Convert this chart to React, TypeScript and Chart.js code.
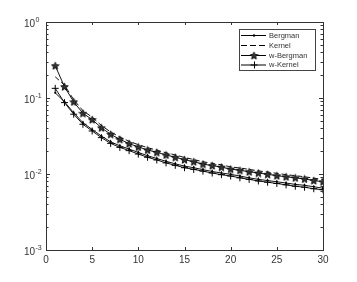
import React, { useEffect, useRef } from "react";
import { Chart, registerables } from "chart.js";

Chart.register(...registerables);

const xValues = [1,2,3,4,5,6,7,8,9,10,11,12,13,14,15,16,17,18,19,20,21,22,23,24,25,26,27,28,29,30];
const bergman = [0.117,0.089,0.064,0.0473,0.0385,0.0316,0.0265,0.0235,0.0213,0.0192,0.0174,0.016,0.0147,0.0136,0.0127,0.0121,0.0114,0.0108,0.0103,0.0099,0.0094,0.0089,0.0085,0.0082,0.0079,0.0076,0.0073,0.0071,0.0068,0.0065];
const kernel = [0.19,0.148,0.095,0.068,0.056,0.0435,0.0357,0.0306,0.0269,0.0243,0.0222,0.0206,0.019,0.0178,0.0165,0.0155,0.0145,0.0138,0.0132,0.0124,0.012,0.0115,0.011,0.0106,0.0102,0.0098,0.0095,0.0092,0.0088,0.0085];
const wBergman = [0.266,0.141,0.089,0.063,0.052,0.0406,0.0333,0.0286,0.0251,0.0227,0.0207,0.0193,0.0178,0.0166,0.0154,0.0145,0.0135,0.0129,0.0123,0.0116,0.0112,0.0107,0.0103,0.0099,0.0095,0.0092,0.0089,0.0086,0.0082,0.0079];
const wKernel = [0.134,0.087,0.0612,0.0451,0.0368,0.0301,0.0253,0.0224,0.0203,0.0183,0.0166,0.0153,0.014,0.013,0.0121,0.0115,0.0109,0.0103,0.0098,0.0094,0.0089,0.0085,0.0081,0.0078,0.0075,0.0072,0.0069,0.0067,0.0064,0.0062];
const seriesNames = ["Bergman", "Kernel", "w-Bergman", "w-Kernel"];
const xTicks = [0, 5, 10, 15, 20, 25, 30];
const yDecades = [-3, -2, -1, 0];

const FONT = "'Liberation Sans', Arial, sans-serif";

function makeStar(size: number): HTMLCanvasElement {
  const c = document.createElement("canvas");
  c.width = size;
  c.height = size;
  const g = c.getContext("2d")!;
  const cx = size / 2, cy = size / 2 + 0.4;
  const R = size / 2 - 0.5, r = R * 0.45;
  g.beginPath();
  for (let i = 0; i < 10; i++) {
    const a = -Math.PI / 2 + (i * Math.PI) / 5;
    const rr = i % 2 === 0 ? R : r;
    const px = cx + rr * Math.cos(a), py = cy + rr * Math.sin(a);
    if (i === 0) g.moveTo(px, py); else g.lineTo(px, py);
  }
  g.closePath();
  g.fillStyle = "#333";
  g.fill();
  g.strokeStyle = "#000";
  g.lineWidth = 0.8;
  g.stroke();
  return c;
}

export default function App() {
  const ref = useRef<HTMLCanvasElement | null>(null);
  useEffect(() => {
    document.body.style.margin = "0";
    const star = makeStar(9);
    const framePlugin = {
      id: "frame",
      afterDraw(chart: any) {
        const { ctx, chartArea } = chart;
        const { left, right, top, bottom } = chartArea;
        const xs = chart.scales.x, ys = chart.scales.y;
        ctx.save();
        ctx.strokeStyle = "#333";
        ctx.lineWidth = 1;
        ctx.strokeRect(Math.round(left) + 0.5, Math.round(top) + 0.5, Math.round(right - left), Math.round(bottom - top));
        ctx.beginPath();
        for (const t of xTicks) {
          const px = Math.round(xs.getPixelForValue(t)) + 0.5;
          ctx.moveTo(px, bottom); ctx.lineTo(px, bottom - 3);
          ctx.moveTo(px, top); ctx.lineTo(px, top + 3);
        }
        for (const d of yDecades) {
          for (let m = 1; m <= 9; m++) {
            if (d === 0 && m > 1) break;
            const v = m * Math.pow(10, d);
            const py = Math.round(ys.getPixelForValue(v)) + 0.5;
            const len = m === 1 ? 4 : 2.5;
            ctx.moveTo(left, py); ctx.lineTo(left + len, py);
            ctx.moveTo(right, py); ctx.lineTo(right - len, py);
          }
        }
        ctx.stroke();
        // y labels
        ctx.fillStyle = "#333";
        for (const d of yDecades) {
          const py = ys.getPixelForValue(Math.pow(10, d));
          ctx.font = "10px " + FONT;
          ctx.textAlign = "right";
          ctx.textBaseline = "middle";
          ctx.fillText("10", 35, py + 2);
          ctx.font = "7px " + FONT;
          ctx.textAlign = "left";
          ctx.fillText(String(d), 35.5, py - 2);
        }
        // legend
        const bx = 239.5, by = 29.5, bw = 76, bh = 41;
        ctx.fillStyle = "#fff";
        ctx.fillRect(bx, by, bw, bh);
        ctx.strokeStyle = "#444";
        ctx.strokeRect(bx, by, bw, bh);
        const rows = [35, 45, 55, 64.5];
        rows.forEach((ry, i) => {
          ctx.strokeStyle = "#000";
          ctx.lineWidth = 1;
          ctx.setLineDash(i === 1 ? [6, 3] : []);
          ctx.beginPath();
          ctx.moveTo(241, ry + 0.5);
          ctx.lineTo(266, ry + 0.5);
          ctx.stroke();
          ctx.setLineDash([]);
          const mx = 254;
          if (i === 0) {
            ctx.fillStyle = "#000";
            ctx.beginPath(); ctx.arc(mx, ry + 0.5, 1.2, 0, Math.PI * 2); ctx.fill();
          } else if (i === 2) {
            ctx.drawImage(star, mx - 4.5, ry + 0.5 - 4.5);
          } else if (i === 3) {
            ctx.beginPath();
            ctx.moveTo(mx - 3.5, ry + 0.5); ctx.lineTo(mx + 3.5, ry + 0.5);
            ctx.moveTo(mx + 0.5, ry - 3); ctx.lineTo(mx + 0.5, ry + 4);
            ctx.stroke();
          }
          ctx.fillStyle = "#333";
          ctx.font = "7.5px " + FONT;
          ctx.textAlign = "left";
          ctx.textBaseline = "middle";
          ctx.fillText(seriesNames[i], 269, ry + 0.5);
        });
        ctx.restore();
      },
    };
    const mk = (arr: number[]) => xValues.map((x, i) => ({ x, y: arr[i] }));
    const chart = new Chart(ref.current!, {
      type: "line",
      data: {
        datasets: [
          { label: seriesNames[0], data: mk(bergman), borderColor: "#111", borderWidth: 1, pointStyle: "circle", pointRadius: 1.1, pointBackgroundColor: "#000", pointBorderWidth: 0, tension: 0 },
          { label: seriesNames[1], data: mk(kernel), borderColor: "#111", borderWidth: 1, borderDash: [5, 3], pointRadius: 0, tension: 0 },
          { label: seriesNames[2], data: mk(wBergman), borderColor: "#111", borderWidth: 1, pointStyle: star as any, pointRadius: 4.5, tension: 0 },
          { label: seriesNames[3], data: mk(wKernel), borderColor: "#111", borderWidth: 1, pointStyle: "cross", pointRadius: 3.5, pointBorderColor: "#000", pointBorderWidth: 1, tension: 0 },
        ],
      },
      options: {
        responsive: false,
        animation: false,
        layout: { padding: { left: 0, top: 22, right: 34, bottom: 0 } },
        plugins: { legend: { display: false }, tooltip: { enabled: false } },
        scales: {
          x: {
            type: "linear",
            min: 0,
            max: 30,
            grid: { display: false, drawTicks: false },
            border: { display: false },
            ticks: { stepSize: 5, color: "#333", font: { family: FONT, size: 10 }, padding: 4, maxRotation: 0 },
            afterFit: (s: any) => { s.height = 32; },
          },
          y: {
            type: "logarithmic",
            min: 0.001,
            max: 1,
            grid: { display: false, drawTicks: false },
            border: { display: false },
            ticks: { display: false },
            afterFit: (s: any) => { s.width = 46; },
          },
        },
      },
      plugins: [framePlugin],
    });
    return () => chart.destroy();
  }, []);
  return <canvas ref={ref} width={357} height={282} style={{ display: "block" }} />;
}
